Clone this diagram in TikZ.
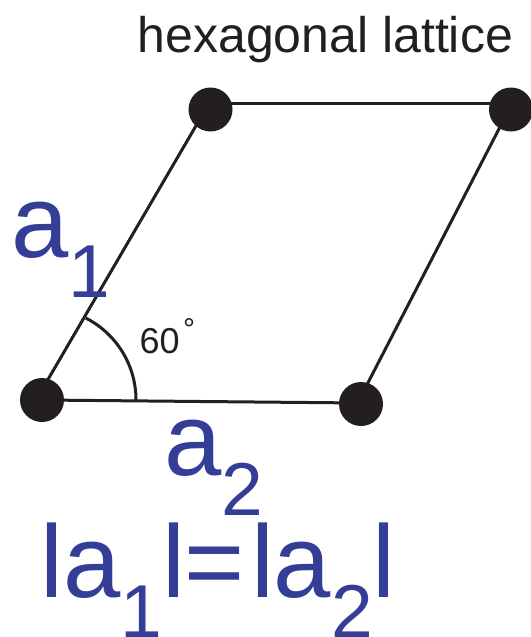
\documentclass[tikz,border=0pt]{standalone}
\usepackage{fontspec}
\setmainfont{Liberation Sans}
\definecolor{ink}{RGB}{35,31,32}
\definecolor{vblue}{RGB}{52,62,150}
\newcommand{\lsub}[1]{{\fontsize{75}{75}\selectfont\raisebox{-40pt}{#1}}}
\begin{document}
\begin{tikzpicture}[x=1pt,y=-1pt,
  site/.style={circle,fill=ink,minimum size=44pt,inner sep=0pt},
  bond/.style={draw=ink,line width=3pt},
  txt/.style={inner sep=0pt,anchor=base west},
  big/.style={txt,text=vblue,font=\fontsize{103}{103}\selectfont}]
\useasboundingbox (0,0) rectangle (530,637);
\node[site] (bl) at (42,400) {};
\node[site] (br) at (361,404) {};
\node[site] (tl) at (210.5,109.5) {};
\node[site] (tr) at (511,109.5) {};
\draw[bond] ([xshift=-6pt]bl.center) -- ([xshift=-5pt]tl.center);
\draw[bond] ([yshift=6.5pt]tl.center) -- ([yshift=6.5pt]tr.center);
\draw[bond] (bl.center) -- ([yshift=1pt]br.center);
\draw[bond] ([xshift=-4pt]br.center) -- ([xshift=-2pt]tr.center);
\draw[bond] ([xshift=94pt]bl.center) arc[start angle=0,end angle=63,radius=92pt];
\node[txt,text=ink,font=\fontsize{50}{50}\selectfont] (title) at (137.5,52) {hexagonal lattice};
\node[txt,text=ink,font=\fontsize{36}{36}\selectfont] (ang) at (139.5,353) {60\hspace{3.5pt}\raisebox{13.5pt}{\fontsize{30}{30}\selectfont °}};
\node[big] (a1) at (11,257) {a\lsub{1}};
\node[big] (a2) at (164,475) {a\lsub{2}};
\node[big] (eq) at (40,597) {la\lsub{1}l=\hspace{6pt}la\lsub{2}l};
\end{tikzpicture}
\end{document}
